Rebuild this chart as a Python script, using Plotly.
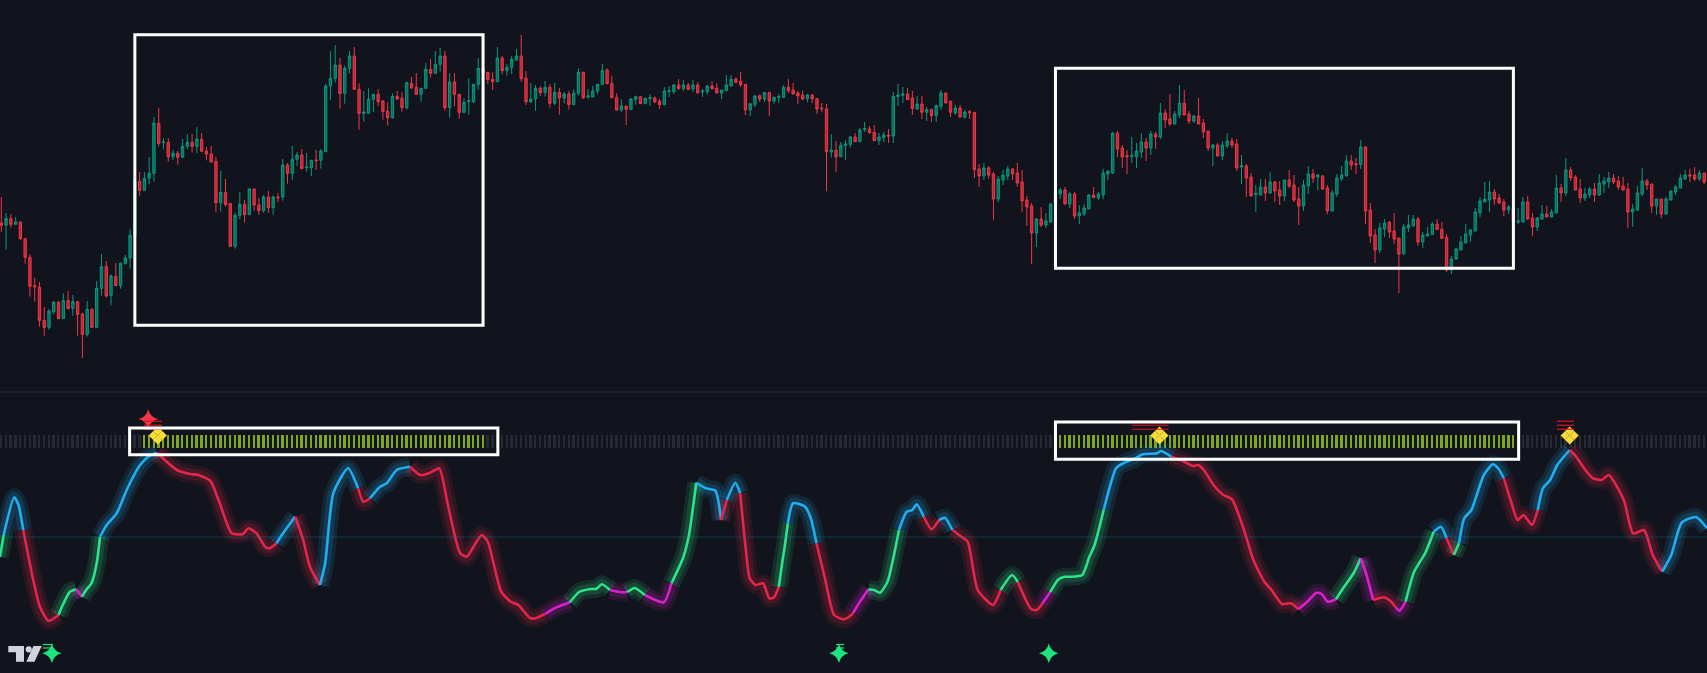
import plotly.graph_objects as go

# ---------------- data (price pane) ----------------
open_ = [531,524,544,527,534,484,428,343,338,239,
 218,265,293,244,298,275,295,258,197,272,
 218,335,400,314,371,343,409,426,494,656,
 629,665,680,830,772,773,730,740,728,761,
 773,761,782,747,738,716,592,623,589,461,
 554,587,556,633,585,568,609,577,609,609,
 705,680,722,735,697,697,720,719,745,942,
 965,1005,920,995,1032,932,860,860,902,917,
 897,866,847,911,905,877,950,938,917,935,
 992,980,1007,1032,877,954,917,863,895,895,
 947,995,983,962,955,1026,988,998,1020,1032,
 966,895,903,935,922,938,890,923,906,918,
 886,920,983,909,909,927,947,990,949,907,
 870,882,872,902,910,889,904,906,897,886,
 925,925,945,935,945,933,945,925,925,942,
 935,921,928,942,963,957,947,870,887,913,
 903,922,897,908,908,938,930,921,914,904,
 915,904,876,873,744,749,730,764,767,789,
 775,811,813,803,778,787,795,792,910,914,
 918,906,873,888,863,871,853,880,921,896,
 861,876,849,865,863,693,672,696,678,603,
 660,672,693,681,654,600,582,501,543,525,
 534,588,618,630,588,618,552,558,573,615,
 606,615,678,681,801,756,733,731,730,744,
 774,756,798,789,861,843,828,855,891,858,
 837,852,831,807,756,765,732,762,777,768,
 699,702,669,616,615,639,621,654,630,612,
 660,645,603,582,642,678,669,672,636,567,
 618,663,672,717,709,706,759,570,495,450,
 513,534,507,486,438,516,522,543,474,492,
 497,528,512,488,390,423,450,471,495,507,
 561,594,600,624,606,594,570,576,534,534,
 594,546,519,543,558,549,561,636,621,690,
 669,633,606,615,633,615,648,654,666,657,
 642,633,564,570,618,657,648,582,603,558,
 600,624,636,663,675,675,663,681]

high = [609,561,557,549,534,484,437,366,354,279,
 273,297,297,320,327,315,297,262,297,275,
 357,438,417,377,411,412,435,512,693,684,
 684,729,849,876,786,786,750,747,783,798,
 798,819,801,759,762,729,687,663,592,562,
 624,600,635,633,606,615,627,614,621,723,
 711,762,744,753,741,719,750,753,948,1047,
 1065,1026,1004,1047,1059,950,927,935,917,932,
 900,893,920,927,923,955,969,981,935,1011,
 1023,1047,1056,1047,981,981,917,905,965,947,
 1026,1002,983,983,1059,1032,1008,1032,1053,1095,
 987,951,945,942,957,947,951,936,924,927,
 932,995,985,933,942,947,1008,995,972,920,
 902,882,905,913,912,908,918,911,903,939,
 942,948,963,960,951,960,954,933,945,957,
 950,930,975,975,968,984,947,891,915,916,
 924,925,910,918,945,963,951,927,928,918,
 918,906,891,888,798,777,774,780,792,801,
 816,834,822,825,801,804,813,924,948,939,
 936,927,912,912,879,874,886,930,921,898,
 885,885,870,870,863,708,711,702,684,672,
 690,702,696,711,690,612,591,546,579,561,
 591,651,636,639,624,624,585,588,618,639,
 624,693,687,804,807,765,750,789,771,801,
 786,807,804,891,873,918,867,945,930,867,
 855,906,843,807,768,771,777,801,786,783,
 735,708,681,645,663,663,684,657,657,660,
 690,675,639,660,702,693,678,675,645,630,
 678,702,735,735,726,780,762,591,513,531,
 543,537,561,486,528,555,555,549,504,519,
 534,543,534,498,432,456,492,528,513,576,
 609,654,657,633,618,603,585,576,576,609,
 612,561,549,585,582,573,675,648,726,699,
 675,663,636,639,651,678,669,684,678,672,
 669,651,588,642,696,663,648,603,603,609,
 627,645,678,690,693,699,690,681]

low = [504,451,517,527,480,409,310,295,220,193,
 211,256,244,244,272,253,193,126,190,218,
 218,313,307,284,343,334,407,394,494,613,
 629,647,655,760,752,715,720,706,728,752,
 743,740,746,719,713,563,565,580,460,454,
 542,533,556,568,556,562,562,556,593,598,
 649,660,702,694,685,672,690,694,745,901,
 952,874,889,980,932,811,835,860,865,882,
 841,823,844,900,865,871,932,917,895,935,
 967,980,985,868,847,881,844,863,856,890,
 931,970,948,930,955,977,973,978,1017,954,
 885,891,868,912,910,877,885,856,890,871,
 886,913,903,904,909,917,947,947,907,868,
 864,825,870,886,889,889,882,891,873,886,
 909,918,930,927,930,924,921,909,916,932,
 921,903,928,942,950,939,855,852,879,894,
 894,852,889,891,906,921,918,888,900,893,
 891,858,864,627,727,684,730,720,757,775,
 775,804,799,778,765,774,771,771,882,891,
 900,855,870,843,837,834,834,870,891,849,
 855,849,843,843,666,639,660,663,540,594,
 645,660,660,639,564,522,408,459,519,516,
 531,588,603,588,576,543,528,552,573,607,
 600,603,660,678,729,696,678,711,696,726,
 717,735,753,783,816,822,828,846,855,828,
 831,828,786,747,702,732,720,756,756,687,
 648,609,612,564,615,597,618,594,585,597,
 636,594,525,567,618,651,630,630,558,567,
 609,657,672,690,678,693,528,471,411,441,
 489,486,468,321,438,504,522,462,456,492,
 495,512,483,384,378,420,450,471,474,507,
 549,594,564,585,588,552,558,522,528,534,
 540,492,507,540,549,549,561,594,612,657,
 630,591,597,606,594,612,621,636,648,630,
 630,516,519,567,612,630,561,555,546,555,
 600,615,636,660,654,657,657,648]

close = [524,544,527,534,484,428,341,340,239,218,
 267,293,244,298,274,295,257,197,272,218,
 335,400,312,372,343,410,426,494,656,629,
 665,680,830,770,774,730,740,728,761,773,
 761,783,746,738,714,592,623,586,461,554,
 587,556,633,585,568,609,577,609,607,705,
 680,722,735,694,699,719,718,747,942,965,
 1005,920,995,1032,932,860,864,902,917,895,
 866,847,911,903,877,952,937,917,935,992,
 980,1007,1032,877,954,917,863,893,898,947,
 995,982,962,955,1026,988,998,1022,1032,964,
 895,903,935,922,938,890,923,906,918,886,
 920,983,907,912,927,947,988,949,907,870,
 882,872,903,910,889,905,907,894,886,927,
 928,945,935,945,932,945,921,927,942,934,
 921,930,945,962,953,946,870,889,912,903,
 922,897,908,910,938,928,918,912,903,915,
 904,873,874,745,750,730,764,768,789,775,
 810,814,802,778,789,795,792,911,915,918,
 901,875,888,863,871,853,883,921,891,863,
 876,849,864,862,691,672,696,675,603,663,
 675,693,678,651,597,579,501,543,525,537,
 588,620,630,588,618,552,561,576,615,607,
 618,681,687,801,753,729,730,734,747,774,
 756,798,789,861,840,828,858,891,855,837,
 852,828,804,756,765,732,765,777,765,696,
 703,666,612,620,639,621,654,627,612,660,
 642,600,582,645,678,666,675,633,567,621,
 666,675,717,705,706,759,567,492,450,516,
 531,504,483,438,519,525,543,474,495,498,
 528,512,485,390,423,453,474,498,510,564,
 597,603,624,603,591,570,579,534,537,594,
 543,519,546,558,549,564,636,621,690,666,
 630,606,618,633,615,651,657,666,654,639,
 630,564,573,621,657,645,582,603,558,603,
 627,639,666,675,672,663,681,654]

# zone boxes on price pane (bar index start/end, price top/bottom)
box_start = [28, 221]
box_end = [101, 317]
box_top = [1096, 995]
box_bottom = [224, 395]

# ---------------- data (oscillator pane) ----------------
osc_x = [-0.3,0.5,2.7,3.6,4.6,6.7,8.1,9.9,12.0,12.7,14.4,15.7,16.9,17.9,18.9,20.0,20.7,22.1,24.2,26.6,
 29.1,30.8,32.6,34.7,36.8,39.6,41.3,43.8,45.8,48.3,50.7,51.8,53.5,55.3,56.3,57.7,58.8,61.6,63.3,64.7,
 66.8,67.9,69.6,72.7,74.8,75.9,77.3,79.4,80.8,82.9,85.7,87.8,89.9,91.8,93.7,96.2,97.6,99.0,100.7,102.0,
 103.2,104.8,106.8,108.4,110.8,112.0,113.2,114.0,116.0,119.2,121.2,123.6,124.8,125.9,127.6,130.0,131.2,132.8,134.9,138.9,
 140.5,142.9,144.1,145.7,147.7,149.7,150.9,152.1,153.9,154.9,156.1,156.9,158.1,159.7,161.0,162.0,163.0,163.7,164.3,164.9,
 166.0,168.5,169.7,170.9,172.6,174.6,176.6,178.0,178.6,179.8,181.8,183.0,184.2,185.8,187.0,188.2,189.8,191.0,191.9,193.4,
 195.0,196.6,197.8,199.4,201.0,202.6,204.7,207.9,209.5,211.9,213.1,215.9,217.1,218.3,219.9,221.6,222.9,224.0,226.6,228.1,
 229.2,231.1,232.6,233.7,235.2,237.8,239.3,242.3,243.1,245.3,247.6,249.8,251.0,252.1,254.3,256.2,258.0,260.3,262.5,264.8,
 266.3,268.5,270.4,271.9,273.8,275.7,276.8,278.1,279.8,281.3,283.5,285.0,286.1,287.6,289.9,291.4,292.3,293.1,294.4,296.2,
 298.5,300.3,301.8,303.0,304.5,305.6,306.7,308.2,310.8,312.7,313.8,315.0,316.4,317.9,319.1,320.9,322.1,323.2,324.7,326.2,
 328.8,329.9,332.2,333.7,335.5,337.0,340.2,342.1,344.4,346.2,348.2,350.1,352.3,355.3,357.6]
osc_v = [42.0,50.8,65.9,62.8,52.8,32.8,22.1,16.5,18.8,22.1,28.1,29.1,26.1,29.1,31.5,39.5,50.1,54.8,59.5,70.1,
 78.8,82.1,83.7,80.1,76.8,75.2,74.8,72.5,63.5,51.5,51.2,53.5,51.5,46.1,45.5,47.5,50.8,58.1,48.8,38.1,
 30.8,39.5,67.5,77.5,69.5,64.1,65.5,70.1,71.5,76.8,78.1,74.8,75.7,77.5,62.1,43.5,42.1,46.1,50.8,48.1,
 39.5,28.1,24.1,22.8,17.7,17.5,18.5,19.2,21.5,23.9,28.1,29.2,29.3,31.1,28.8,27.9,28.0,29.6,26.8,23.9,
 31.5,41.5,50.1,71.7,69.5,68.5,56.8,64.8,71.7,67.5,44.8,33.5,30.8,31.5,25.5,25.9,30.1,39.5,47.0,55.5,
 63.5,62.1,57.5,47.5,34.1,18.8,17.1,18.5,19.7,23.5,29.1,28.8,27.7,32.1,41.5,52.8,60.1,60.8,63.1,58.1,
 53.1,56.8,57.7,52.8,50.5,48.1,28.8,22.8,28.8,34.8,32.0,21.2,20.8,23.5,28.0,33.0,34.1,34.1,34.8,42.1,
 46.8,60.8,71.5,77.5,79.5,81.5,83.1,83.5,84.4,82.1,80.5,78.4,78.8,76.8,70.4,66.8,65.1,54.1,40.8,32.1,
 28.8,23.2,23.5,21.1,24.1,27.7,27.2,24.1,25.1,29.5,35.5,41.5,35.5,24.8,25.9,24.1,22.0,20.5,24.1,36.1,
 43.5,52.1,54.1,49.5,42.8,47.5,57.5,60.8,74.8,79.1,77.5,73.5,64.8,56.8,58.8,54.8,60.8,69.5,72.8,78.8,
 84.8,82.8,76.5,73.5,72.8,74.8,64.5,51.4,52.8,42.8,36.2,42.8,55.8,58.0,53.5]
# colour state of each segment (b=bull strong, g=bull weak, r=bear, m=bear weak)
osc_c = list("gbbbrrrrggg" "mgggg" "bbbbbbrrrrrrrrrrrrrbbrrrbbbbrrbbbbrrrrrrrrrrrrrrrrrmmggggg"
 "mmggmmgggbbbrbbrrrrrrrgggbbbbrrrrrmmggggg" "bbbbrrbbrrrrrggrrrmgggggggbbbbbbbbrrrrrrrrrrrrrrmmmmmggg"
 "mmrrrmmgggbbrgbbbbbbrrrrrbbbbrrrrrrrrrrbbbbb")

# signal strip: bar-index ranges with active signal
signal_ranges = [(30, 101), (222, 317)]
# oscillator boxes (bar index start/end, value top/bottom)
obox_start = [26.9, 221.0]
obox_end = [104.1, 318.1]
obox_top = [93.6, 96.0]
obox_bottom = [82.9, 81.1]
# peak diamonds and their level dashes
peak_x = [32.8, 242.8, 328.8]
peak_v = [90.6, 90.6, 90.6]
level_x0 = [29.9, 237.0, 326.1]
level_x1 = [33.7, 244.7, 329.7]
level_v = [96.3, 94.7, 93.1]
# sell star and buy stars
sell_x = [30.8]
sell_v = [97.2]
buy_x = [10.6, 175.6, 219.6]
buy_v = [3.5, 3.5, 3.5]
buy_level_x0 = [8.7, 175.0]
buy_level_x1 = [10.8, 176.7]
buy_level_v = [7.0, 5.6]

# ---------------- figure ----------------
W, H = 1707, 673
BG = '#11141c'
SPLIT = 1 - 392 / H
n = len(close)
assert len(open_) == n and len(high) == n and len(low) == n, (len(open_), len(high), len(low), n)
assert len(osc_x) == len(osc_v), (len(osc_x), len(osc_v))
idx = list(range(n))
X0 = -1.3 / 4.77
X1 = X0 + W / 4.77

fig = go.Figure()

fig.add_trace(go.Candlestick(
    x=idx, open=open_, high=high, low=low, close=close,
    increasing=dict(line=dict(color='#089981', width=1), fillcolor='#0a6b5a'),
    decreasing=dict(line=dict(color='#f23645', width=1), fillcolor='#b3283b'),
    whiskerwidth=0, hoverinfo='skip', xaxis='x', yaxis='y'))

band_bottom, band_top = 85.6, 90.8
band_cols = ['#7fa61c' if any(a <= i <= b for a, b in signal_ranges) else '#262a34' for i in idx]
fig.add_trace(go.Bar(x=idx, y=[band_top - band_bottom] * n, base=band_bottom, width=0.38,
                     marker=dict(color=band_cols, line=dict(width=0)),
                     hoverinfo='skip', xaxis='x', yaxis='y2'))

COL = {'b': (34, 174, 240), 'r': (227, 38, 74), 'g': (47, 227, 138), 'm': (213, 35, 201)}

def rgba(c, a):
    return 'rgba(%d,%d,%d,%.3f)' % (c[0], c[1], c[2], a)

# split into colour runs
N = len(osc_x)
cols = (osc_c + [osc_c[-1]] * N)[:N]
runs = []
start = 0
for k in range(1, N):
    if k == N - 1 or cols[k] != cols[start]:
        runs.append((start, k, cols[start]))
        start = k

for width, alpha in [(18, 0.12), (11, 0.15)]:
    for s, e, c in runs:
        fig.add_trace(go.Scatter(x=osc_x[s:e + 1], y=osc_v[s:e + 1], mode='lines',
                                 line=dict(color=rgba(COL[c], alpha), width=width, shape='spline', smoothing=0.6),
                                 hoverinfo='skip', xaxis='x', yaxis='y2'))
for s, e, c in runs:
    fig.add_trace(go.Scatter(x=osc_x[s:e + 1], y=osc_v[s:e + 1], mode='lines',
                             line=dict(color=rgba(COL[c], 1), width=2.6, shape='spline', smoothing=0.6),
                             hoverinfo='skip', xaxis='x', yaxis='y2'))

# peak diamond clusters (4 small diamonds)
dx, dy = 0.95, 1.8
cx, cy = [], []
for px, pv in zip(peak_x, peak_v):
    for ox, oy in [(-dx, 0), (dx, 0), (0, dy), (0, -dy)]:
        cx.append(px + ox)
        cy.append(pv + oy)
fig.add_trace(go.Scatter(x=cx, y=cy, mode='markers',
                         marker=dict(symbol='diamond', size=7, color='#f6dc3a', line=dict(width=0)),
                         hoverinfo='skip', xaxis='x', yaxis='y2'))
fig.add_trace(go.Scatter(x=sell_x, y=sell_v, mode='markers',
                         marker=dict(symbol='star-diamond', size=14, color='#f23645', line=dict(width=0)),
                         hoverinfo='skip', xaxis='x', yaxis='y2'))
fig.add_trace(go.Scatter(x=buy_x, y=buy_v, mode='markers',
                         marker=dict(symbol='star-diamond', size=14, color='#1de47e', line=dict(width=0)),
                         hoverinfo='skip', xaxis='x', yaxis='y2'))

shapes = []
# pane separator and oscillator midline
shapes.append(dict(type='line', xref='paper', yref='paper', x0=0, x1=1, y0=SPLIT, y1=SPLIT,
                   line=dict(color='#2a2e39', width=1)))
shapes.append(dict(type='line', xref='paper', yref='y2', x0=0, x1=1, y0=50, y1=50,
                   line=dict(color='rgba(0,160,180,0.28)', width=1)))
# level dashes
for a, b in zip(level_x0, level_x1):
    for v in level_v:
        shapes.append(dict(type='line', xref='x', yref='y2', x0=a, x1=b, y0=v, y1=v,
                           line=dict(color='#e0121f', width=1.2)))
for a, b in zip(buy_level_x0, buy_level_x1):
    for v in buy_level_v:
        shapes.append(dict(type='line', xref='x', yref='y2', x0=a, x1=b, y0=v, y1=v,
                           line=dict(color='#1de47e', width=1.2)))
# zone boxes
for a, b, t, btm in zip(box_start, box_end, box_top, box_bottom):
    shapes.append(dict(type='rect', xref='x', yref='y', x0=a, x1=b, y0=btm, y1=t,
                       line=dict(color='#ffffff', width=3), fillcolor='rgba(0,0,0,0)'))
for a, b, t, btm in zip(obox_start, obox_end, obox_top, obox_bottom):
    shapes.append(dict(type='rect', xref='x', yref='y2', x0=a, x1=b, y0=btm, y1=t,
                       line=dict(color='#ffffff', width=3), fillcolor='rgba(0,0,0,0)'))

# watermark logo (pixel positions -> paper)
def P(x, y):
    return '%.5f,%.5f' % (x / W, 1 - y / H)

logo = '#d1d4dc'
shapes.append(dict(type='path', xref='paper', yref='paper', line=dict(width=0), fillcolor=logo,
                   path='M' + ' L'.join(P(*p) for p in [(8.3, 646), (24, 646), (24, 661.7), (16, 661.7), (16, 652.3), (8.3, 652.3)]) + ' Z'))
shapes.append(dict(type='circle', xref='paper', yref='paper', line=dict(width=0), fillcolor=logo,
                   x0=25.6 / W, x1=31.8 / W, y0=1 - 652.4 / H, y1=1 - 646.2 / H))
shapes.append(dict(type='path', xref='paper', yref='paper', line=dict(width=0), fillcolor=logo,
                   path='M' + ' L'.join(P(*p) for p in [(33.5, 646), (41.7, 646), (34.5, 661.7), (26.3, 661.7)]) + ' Z'))

fig.update_layout(
    width=W, height=H, margin=dict(l=0, r=0, t=0, b=0),
    paper_bgcolor=BG, plot_bgcolor=BG, showlegend=False, hovermode=False,
    xaxis=dict(range=[X0, X1], visible=False, rangeslider=dict(visible=False), fixedrange=True),
    yaxis=dict(domain=[SPLIT, 1], range=[24, 1200], visible=False, fixedrange=True),
    yaxis2=dict(domain=[0, SPLIT], range=[-4.4, 108], visible=False, fixedrange=True),
    shapes=shapes, bargap=0,
)

fig.write_html("out.html", config={'displayModeBar': False},
               post_script="document.body.style.margin='0';document.body.style.background='%s';document.body.style.overflow='hidden';" % BG)
